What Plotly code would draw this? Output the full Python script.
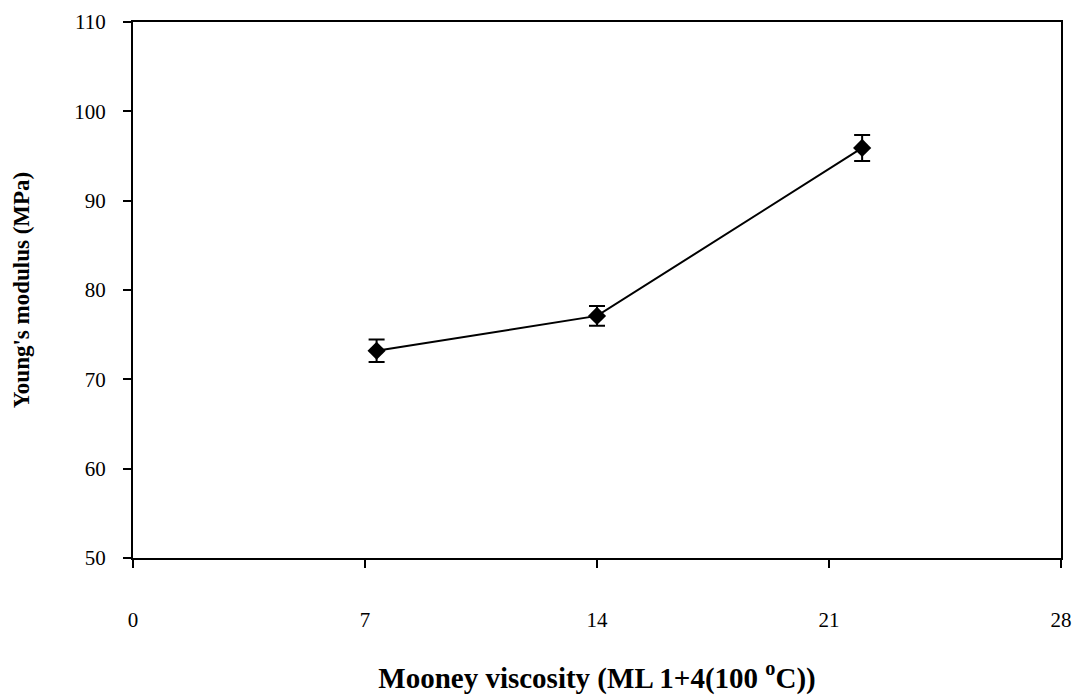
import plotly.graph_objects as go

mooney = [7.35, 14.0, 22.0]
modulus = [73.2, 77.1, 95.9]
err = [1.25, 1.1, 1.45]
x_ticks = [0, 7, 14, 21, 28]
y_ticks = [50, 60, 70, 80, 90, 100, 110]

fig = go.Figure()
fig.add_trace(go.Scatter(
    x=mooney, y=modulus, mode="lines+markers",
    line=dict(color="black", width=2),
    marker=dict(symbol="diamond", size=14, color="black"),
    error_y=dict(type="data", array=err, visible=True, color="black", thickness=2, width=8),
    showlegend=False,
))

font = "Liberation Serif, Times New Roman, serif"
fig.update_layout(
    width=1074, height=696,
    margin=dict(l=133, r=13, t=22, b=138),
    paper_bgcolor="white", plot_bgcolor="white",
    font=dict(family=font, color="black", size=20),
)
fig.update_xaxes(
    range=[0, 28], tickvals=x_ticks, ticks="outside", ticklen=8, tickwidth=1.5,
    tickcolor="black", showline=True, linecolor="black", linewidth=2, mirror=True,
    showgrid=False, zeroline=False, ticklabelstandoff=34, automargin=False,
    tickfont=dict(size=21),
    title=dict(text="<b>Mooney viscosity (ML 1+4(100 <sup>o</sup>C))</b>", font=dict(size=29), standoff=36),
)
fig.update_yaxes(
    range=[50, 110], tickvals=y_ticks, ticks="outside", ticklen=8, tickwidth=1.5,
    tickcolor="black", showline=True, linecolor="black", linewidth=2, mirror=True,
    showgrid=False, zeroline=False, ticklabelstandoff=13, automargin=False,
    tickfont=dict(size=21),
    title=dict(text="<b>Young's modulus (MPa)</b>", font=dict(size=23), standoff=38),
)
fig.write_html("out.html")
